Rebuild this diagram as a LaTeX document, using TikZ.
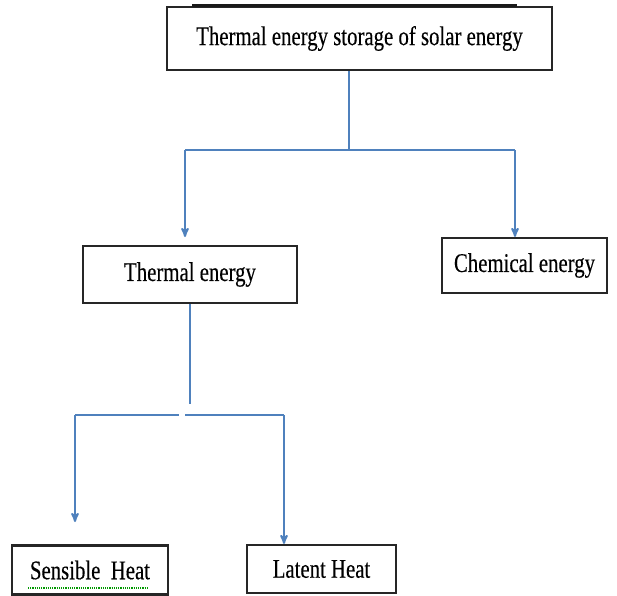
\documentclass[tikz,border=0pt]{standalone}
\usepackage{fontspec}
\setmainfont{Liberation Serif}[FakeStretch=0.77,FakeBold=0.3]
\usetikzlibrary{arrows}
\definecolor{linkblue}{RGB}{79,129,189}

\begin{document}
\begin{tikzpicture}[x=1pt,y=-1pt,>=stealth',
                    box node/.style={draw=black!85,line width=2.2pt,inner sep=0pt,
                                     font=\fontsize{27}{32}\selectfont},
                    link/.style={draw=linkblue,line width=2pt}]
  \useasboundingbox (0,0) rectangle (617,595);

  \node[box node,minimum width=385pt,minimum height=63pt] (storage) at (359.5,38.5) {Thermal energy storage of solar energy};
  \node[box node,minimum width=214pt,minimum height=57pt] (thermal) at (190,274.5) {Thermal energy};
  \node[box node,minimum width=165pt,minimum height=55pt] (chemical) at (524.5,265.5) {Chemical energy};
  \node[box node,minimum width=156pt,minimum height=49pt] (sensible) at (90,570) {Sensible\ \ Heat};
  \node[box node,minimum width=149pt,minimum height=48pt] (latent) at (321.5,569) {Latent Heat};

  % bar above the top box
  \fill[black!90] (192,3.5) rectangle (517,7);
  % spell check mark
  \draw[green!60!black,densely dotted,line width=1.2pt] (28,588) -- (148,588);

  \coordinate (split1) at (349,150);
  \coordinate (left1) at (185,150);
  \coordinate (right1) at (515,150);
  \coordinate (tip1) at (185,237);
  \coordinate (stem2) at (190,404);
  \coordinate (left2) at (75,415);
  \coordinate (gapl) at (179,415);
  \coordinate (gapr) at (185,415);
  \coordinate (right2) at (284,415);
  \coordinate (tip2) at (75,522);

  \draw[link] (storage.south -| split1) -- (split1);
  \draw[link] (left1) -- (right1);
  \draw[link,->] (left1) -- (tip1);
  \draw[link,->] (right1) -- (chemical.north -| right1);

  \draw[link] (thermal.south -| stem2) -- (stem2);
  \draw[link] (left2) -- (gapl);
  \draw[link] (gapr) -- (right2);
  \draw[link,->] (left2) -- (tip2);
  \draw[link,->] (right2) -- (latent.north -| right2);
\end{tikzpicture}
\end{document}
